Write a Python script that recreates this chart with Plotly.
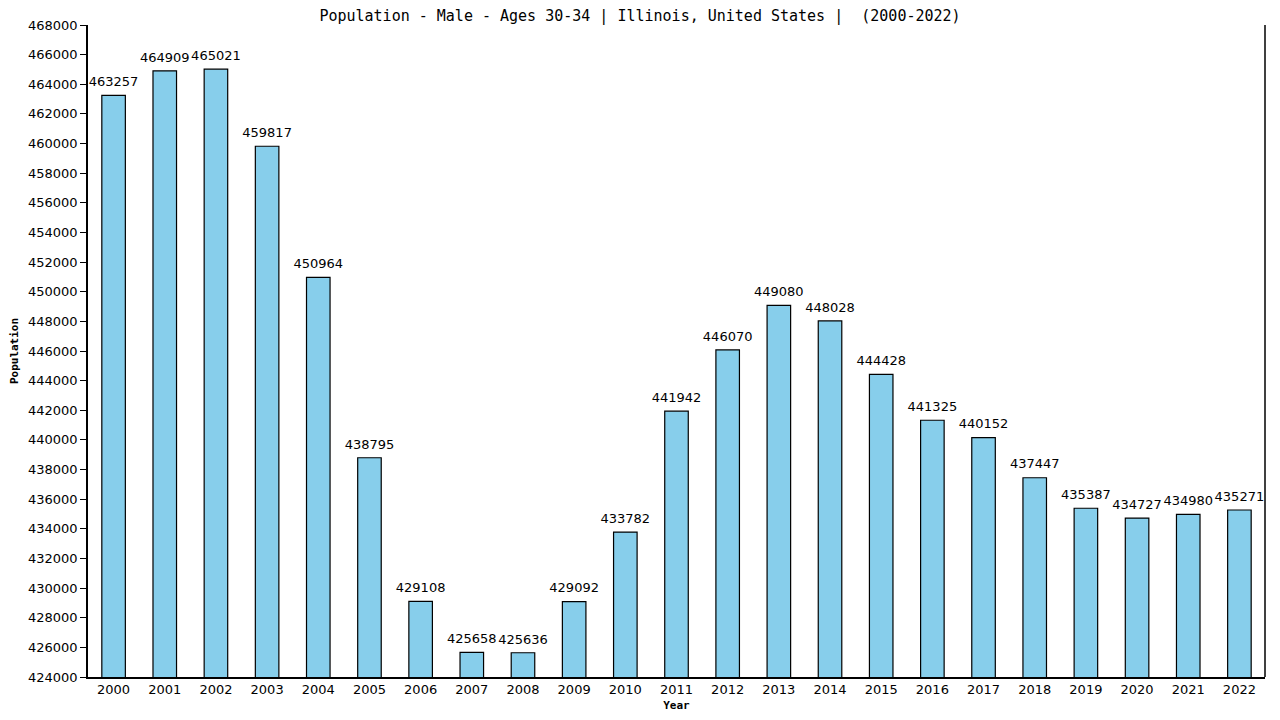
import plotly.graph_objects as go

# Jahre und Werte
years = [str(y) for y in range(2000, 2023)]
population = [463257, 464909, 465021, 459817, 450964, 438795, 429108, 425658,
              425636, 429092, 433782, 441942, 446070, 449080, 448028, 444428,
              441325, 440152, 437447, 435387, 434727, 434980, 435271]
y_ticks = list(range(424000, 468001, 2000))

fig = go.Figure()
fig.add_trace(go.Bar(
    x=years,
    y=population,
    width=0.46,
    marker=dict(color='#87CEEB', line=dict(color='black', width=1.2)),
))
# Beschriftungen über den Balken (unsichtbare Marker für etwas Abstand)
fig.add_trace(go.Scatter(
    x=years,
    y=population,
    mode='markers+text',
    marker=dict(size=8, opacity=0),
    text=[str(v) for v in population],
    textposition='top center',
    textfont=dict(family='DejaVu Sans', size=13, color='black'),
    cliponaxis=False,
    hoverinfo='skip',
))

# Seite hat 8px Rand, daher Figur etwas kleiner
fig.update_layout(
    width=1264, height=704,
    margin=dict(l=80, r=7, t=17, b=35),
    plot_bgcolor='white', paper_bgcolor='white',
    showlegend=False,
    title=dict(text='Population - Male - Ages 30-34 | Illinois, United States |  (2000-2022)',
               x=0.5, xanchor='center', yref='container', y=1 - 8 / 704, yanchor='middle',
               font=dict(family='DejaVu Sans Mono', size=15, color='black')),
    xaxis=dict(
        title=dict(text='<b>Year</b>', font=dict(family='DejaVu Sans Mono', size=11, color='black'),
                   standoff=13),
        range=[-0.5, 22.5],
        tickfont=dict(family='DejaVu Sans', size=13, color='black'),
        showline=True, linecolor='black', linewidth=1.5,
        ticks='', automargin=False,
    ),
    yaxis=dict(
        title=dict(text='<b>Population</b>', font=dict(family='DejaVu Sans Mono', size=11, color='black'),
                   standoff=11),
        range=[424000, 468000],
        tickvals=y_ticks,
        ticktext=[str(v) for v in y_ticks],
        tickfont=dict(family='DejaVu Sans', size=13, color='black'),
        showline=True, linecolor='black', linewidth=1.5,
        ticks='outside', ticklen=6, tickcolor='black',
        showgrid=False, zeroline=False, automargin=False,
    ),
    shapes=[dict(type='line', xref='paper', yref='paper', x0=1, x1=1, y0=0, y1=1,
                 line=dict(color='black', width=1.5))],
)

fig.write_html('out.html')
